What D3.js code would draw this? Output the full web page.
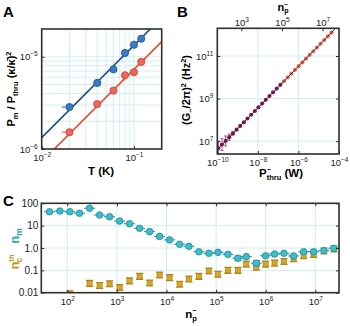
<!DOCTYPE html>
<html><head><meta charset="utf-8">
<script src="https://cdn.jsdelivr.net/npm/d3@7"></script>
<style>
body{margin:0;background:#fff;}
svg{display:block;font-family:"Liberation Sans",Arial,sans-serif;}
</style>
</head><body>
<svg id="c" width="350" height="326"></svg>
<script>
// ---------- Panel A data ----------
const tempK = [0.02, 0.04, 0.06, 0.08, 0.10, 0.12];
const ratioBlue = [2.85e-6, 5.2e-6, 7.3e-6, 1.10e-5, 1.35e-5, 1.57e-5];
const ratioRed = [1.52e-6, 3.07e-6, 4.3e-6, 6.3e-6, 6.8e-6, 8.8e-6];
const tempErrLow = [0.0035, 0, 0, 0, 0, 0];
const fitBlue = [[0.01, 1.33e-6], [0.2, 2.66e-5]];
const fitRed = [[0.01, 7.3e-7], [0.2, 1.46e-5]];
const aGridX = [0.02,0.03,0.04,0.05,0.06,0.07,0.08,0.09,0.1];
const aGridY = [2e-6,3e-6,4e-6,5e-6,6e-6,7e-6,8e-6,9e-6,1e-5];
const aTicksX = [0.01, 0.1];
const aTicksY = [1e-6, 1e-5];

// ---------- Panel B data ----------
const pThru = [1.12e-10,1.70e-10,2.57e-10,3.89e-10,5.89e-10,8.91e-10,1.35e-9,2.04e-9,3.09e-9,4.68e-9,
  7.08e-9,1.07e-8,1.62e-8,2.45e-8,3.72e-8,5.62e-8,8.51e-8,1.29e-7,
  1.95e-7,2.95e-7,4.47e-7,6.76e-7,1.02e-6,1.55e-6,2.34e-6,3.55e-6,5.37e-6,8.13e-6,1.23e-5,1.86e-5,2.82e-5,4.27e-5];
const gSquared = [4.6e6,6.9e6,1.03e7,1.54e7,2.31e7,3.46e7,5.18e7,7.76e7,1.16e8,1.74e8,
  2.61e8,3.91e8,5.85e8,8.77e8,1.31e9,1.97e9,2.94e9,4.41e9,
  6.61e9,9.9e9,1.48e10,2.22e10,3.33e10,4.99e10,7.46e10,1.12e11,1.67e11,2.51e11,3.76e11,5.64e11,8.44e11,1.26e12];
const gErrFactor = [2.2,1.9,1.7,1.4,1.2,0,0,0,0,0,0,0,0,0,0,0,0,0,0,0,0,0,0,0,0,0,0,0,0,0,0,0];
const purpleCount = 18;
const fitB = [[1e-10, 4.1e6], [6.8e-5, 2e12]];
const bTicksX = [1e-10, 1e-8, 1e-6, 1e-4];
const bTicksY = [1e7, 1e9, 1e11];
const bTicksTop = [1e3, 1e5, 1e7];
const nPerWatt = 6.5e11;

// ---------- Panel C data ----------
const nPhotons = [44,71,113,177,282,448,713,1135,1800,2870,4570,7260,11560,18400,28300,45000,71700,
  109000,173000,275000,406000,647000,996000,1.51e6,2.33e6,3.65e6,5.81e6,9.24e6,1.49e7,2.37e7];
const nMech = [42,45,42,36,60,30,25,16,12.2,7.6,5.4,3.3,2.3,1.47,1.19,0.68,0.58,0.64,0.52,0.35,0.41,0.21,
  0.45,0.54,0.58,0.44,0.68,0.68,0.76,0.97];
const nMechErr = [0,0,0,0,0,0,0,0,0,0,0,0,0,0,0,0,0,0,0,1.25,0,1.3,0,0,0,0,0,0,0,0];
const nCav = [null,null,0.009,null,0.026,0.021,0.025,0.017,0.034,0.054,0.027,0.062,0.047,0.024,0.041,0.054,
  0.094,0.067,0.10,0.10,0.19,0.137,0.19,0.21,0.25,0.33,0.45,0.52,0.73,0.90];
const cTicksX = [1e2,1e3,1e4,1e5,1e6,1e7];
const cTicksY = [0.01,0.1,1,10,100];
const cTickYLabels = ["0.01","0.1","1.0","10","100"];

// ---------- helpers ----------
const svg = d3.select('#c');
const frameColor = '#2e2e2e';
const gridColor = '#cdeeed';
const tickFont = '9.5px';

function expText(d) {
  const e = Math.round(Math.log10(d));
  return e < 0 ? '\u2212' + (-e) : String(e);
}
function powLabel(textSel) {
  textSel.each(function(d) {
    const t = d3.select(this);
    t.text(null);
    t.append('tspan').text('10');
    t.append('tspan').attr('dy', -4).attr('font-size', '6.5px').text(expText(d));
  });
}
function styleAxis(g) {
  g.select('.domain').remove();
  g.selectAll('.tick line').attr('stroke', frameColor).attr('stroke-width', 1);
  g.selectAll('.tick text').attr('fill', '#222').style('font-size', tickFont).attr('font-family', '"Liberation Sans",Arial,sans-serif');
}
function frame(x0, y0, x1, y1) {
  svg.append('rect').attr('x', x0).attr('y', y0).attr('width', x1 - x0).attr('height', y1 - y0)
    .attr('fill', 'none').attr('stroke', frameColor).attr('stroke-width', 1.6);
}
function clip(id, x0, y0, x1, y1) {
  svg.append('clipPath').attr('id', id).append('rect')
    .attr('x', x0).attr('y', y0).attr('width', x1 - x0).attr('height', y1 - y0);
}
function richText(sel, parts) {
  parts.forEach(p => {
    const ts = sel.append('tspan').text(p.t);
    if (p.dy) ts.attr('dy', p.dy);
    if (p.dx) ts.attr('dx', p.dx);
    if (p.fs) ts.attr('font-size', p.fs);
    if (p.fill) ts.attr('fill', p.fill);
  });
  return sel;
}

// ============ Panel A ============
const ax = d3.scaleLog().domain([0.01, 0.2]).range([41.7, 161.7]);
const ay = d3.scaleLog().domain([1e-6, 2e-5]).range([149, 29]);
clip('clipA', 41.7, 29, 161.7, 149);
const gA = svg.append('g');
gA.selectAll('.gx').data(aGridX).enter().append('line')
  .attr('x1', d => ax(d)).attr('x2', d => ax(d)).attr('y1', 29).attr('y2', 149)
  .attr('stroke', gridColor).attr('stroke-width', 0.9);
gA.selectAll('.gy').data(aGridY).enter().append('line')
  .attr('y1', d => ay(d)).attr('y2', d => ay(d)).attr('x1', 41.7).attr('x2', 161.7)
  .attr('stroke', gridColor).attr('stroke-width', 0.9);

const lineA = d3.line().x(d => ax(d[0])).y(d => ay(d[1]));
const gAc = svg.append('g').attr('clip-path', 'url(#clipA)');
gAc.append('path').attr('d', lineA(fitBlue)).attr('stroke', '#1f4f8a').attr('stroke-width', 1.6).attr('fill', 'none');
gAc.append('path').attr('d', lineA(fitRed)).attr('stroke', '#ee4a2e').attr('stroke-width', 1.6).attr('fill', 'none');

[[ratioBlue, '#3a7cc4', '#1f4f8a', '#8fb7e0'], [ratioRed, '#ee6660', '#c8403a', '#f0a4a0']].forEach(([vals, fill, stroke, err]) => {
  gAc.selectAll(null).data(tempK).enter().filter((d, i) => tempErrLow[i] > 0).append('line')
    .attr('x1', d => ax(d - tempErrLow[tempK.indexOf(d)])).attr('x2', d => ax(d))
    .attr('y1', (d) => ay(vals[tempK.indexOf(d)])).attr('y2', (d) => ay(vals[tempK.indexOf(d)]))
    .attr('stroke', err).attr('stroke-width', 2.2);
  gAc.selectAll(null).data(tempK).enter().append('circle')
    .attr('cx', d => ax(d)).attr('cy', (d, i) => ay(vals[i])).attr('r', 3.6)
    .attr('fill', fill).attr('stroke', stroke).attr('stroke-width', 0.8);
});

svg.append('g').attr('transform', 'translate(0,149)')
  .call(d3.axisBottom(ax).tickValues(aTicksX).tickSizeInner(-3).tickSizeOuter(0).tickPadding(5))
  .call(styleAxis).call(g => powLabel(g.selectAll('.tick text')));
svg.append('g').attr('transform', 'translate(41.7,0)')
  .call(d3.axisLeft(ay).tickValues(aTicksY).tickSizeInner(-3).tickSizeOuter(0).tickPadding(4))
  .call(styleAxis).call(g => powLabel(g.selectAll('.tick text')));
frame(41.7, 29, 161.7, 149);

svg.append('text').attr('x', 101).attr('y', 175).attr('text-anchor', 'middle')
  .attr('font-weight', 'bold').attr('font-size', '11.5px').text('T (K)');
richText(svg.append('text').attr('transform', 'translate(15,89) rotate(-90)').attr('text-anchor', 'middle')
  .attr('font-weight', 'bold').attr('font-size', '11px'), [
  {t: 'P'}, {t: 'm', dy: 3, fs: '7.5px'}, {t: ' / P', dy: -3}, {t: 'thru', dy: 3, fs: '7.5px'},
  {t: ' (\u03BA/\u03BA\u0304)', dy: -3}, {t: '2', dy: -4, fs: '7.5px'}]);
svg.append('text').attr('x', 3).attr('y', 17).attr('font-weight', 'bold').attr('font-size', '15px').text('A');

// ============ Panel B ============
const bx = d3.scaleLog().domain([1e-10, 1e-4]).range([217.3, 339]);
const bn = d3.scaleLog().domain([1e-10 * nPerWatt, 1e-4 * nPerWatt]).range([217.3, 339]);
const by = d3.scaleLog().domain([2.5e6, 2e12]).range([154, 28.3]);
clip('clipB', 217.3, 28.3, 339, 154);
const gB = svg.append('g');
gB.selectAll(null).data([1e-8, 1e-6]).enter().append('line')
  .attr('x1', d => bx(d)).attr('x2', d => bx(d)).attr('y1', 28.3).attr('y2', 154)
  .attr('stroke', gridColor).attr('stroke-width', 1);
gB.selectAll(null).data(bTicksY).enter().append('line')
  .attr('y1', d => by(d)).attr('y2', d => by(d)).attr('x1', 217.3).attr('x2', 339)
  .attr('stroke', gridColor).attr('stroke-width', 1);
const gBc = svg.append('g').attr('clip-path', 'url(#clipB)');
gBc.selectAll(null).data(pThru).enter().filter((d, i) => gErrFactor[i] > 0).append('g').each(function(d) {
  const i = pThru.indexOf(d);
  const g = d3.select(this);
  const x = bx(d), y0 = by(gSquared[i] / gErrFactor[i]), y1 = by(gSquared[i] * gErrFactor[i]);
  g.append('line').attr('x1', x).attr('x2', x).attr('y1', y0).attr('y2', y1).attr('stroke', '#a0467c').attr('stroke-width', 0.9);
  g.append('line').attr('x1', x - 1.6).attr('x2', x + 1.6).attr('y1', y0).attr('y2', y0).attr('stroke', '#a0467c').attr('stroke-width', 0.9);
  g.append('line').attr('x1', x - 1.6).attr('x2', x + 1.6).attr('y1', y1).attr('y2', y1).attr('stroke', '#a0467c').attr('stroke-width', 0.9);
});
gBc.selectAll(null).data(pThru).enter().append('circle')
  .attr('cx', d => bx(d)).attr('cy', (d, i) => by(gSquared[i])).attr('r', 2.1)
  .attr('fill', (d, i) => i < purpleCount ? '#8e1f5f' : '#f36a5c');
const lineB = d3.line().x(d => bx(d[0])).y(d => by(d[1]));
gBc.append('path').attr('d', lineB(fitB)).attr('stroke', '#111').attr('stroke-width', 0.8).attr('fill', 'none');

svg.append('g').attr('transform', 'translate(0,154)')
  .call(d3.axisBottom(bx).tickValues(bTicksX).tickSizeInner(-3).tickSizeOuter(0).tickPadding(5))
  .call(styleAxis).call(g => powLabel(g.selectAll('.tick text')));
svg.append('g').attr('transform', 'translate(0,28.3)')
  .call(d3.axisTop(bn).tickValues(bTicksTop).tickSizeInner(-3).tickSizeOuter(0).tickPadding(2))
  .call(styleAxis).call(g => powLabel(g.selectAll('.tick text')));
svg.append('g').attr('transform', 'translate(217.3,0)')
  .call(d3.axisLeft(by).tickValues(bTicksY).tickSizeInner(-3).tickSizeOuter(0).tickPadding(4))
  .call(styleAxis).call(g => powLabel(g.selectAll('.tick text')));
svg.append('g').attr('transform', 'translate(339,0)')
  .call(d3.axisRight(by).tickValues(bTicksY).tickSizeInner(-3).tickSizeOuter(0).tickFormat(''))
  .call(styleAxis);
frame(217.3, 28.3, 339, 154);

richText(svg.append('text').attr('x', 281).attr('y', 177).attr('text-anchor', 'middle')
  .attr('font-weight', 'bold').attr('font-size', '11.5px'), [
  {t: 'P'}, {t: '\u2212', dy: -5, fs: '7px'}, {t: 'thru', dy: 8, dx: -4, fs: '7.5px'}, {t: ' (W)', dy: -3}]);
richText(svg.append('text').attr('x', 283).attr('y', 11).attr('text-anchor', 'middle')
  .attr('font-weight', 'bold').attr('font-size', '11px'), [
  {t: 'n'}, {t: '\u2212', dy: -4, fs: '6.5px'}, {t: 'p', dy: 6, dx: -4, fs: '7px'}]);
richText(svg.append('text').attr('transform', 'translate(190,90) rotate(-90)').attr('text-anchor', 'middle')
  .attr('font-weight', 'bold').attr('font-size', '11px'), [
  {t: '(G'}, {t: '\u2212', dy: 3, fs: '7.5px'}, {t: '/2\u03C0)', dy: -3}, {t: '2', dy: -4, fs: '7.5px'},
  {t: ' (Hz', dy: 4}, {t: '2', dy: -4, fs: '7.5px'}, {t: ')', dy: 4}]);
svg.append('text').attr('x', 177).attr('y', 17).attr('font-weight', 'bold').attr('font-size', '15px').text('B');

// ============ Panel C ============
const cx = d3.scaleLog().domain([30, 3e7]).range([41.3, 339]);
const cy = d3.scaleLog().domain([0.01, 100]).range([292.7, 203.3]);
clip('clipC', 41.3, 203.3, 339, 292.7);
const gC = svg.append('g');
gC.selectAll(null).data(cTicksX).enter().append('line')
  .attr('x1', d => cx(d)).attr('x2', d => cx(d)).attr('y1', 203.3).attr('y2', 292.7)
  .attr('stroke', gridColor).attr('stroke-width', 1);
gC.selectAll(null).data([0.1, 1, 10]).enter().append('line')
  .attr('y1', d => cy(d)).attr('y2', d => cy(d)).attr('x1', 41.3).attr('x2', 339)
  .attr('stroke', gridColor).attr('stroke-width', 1);
const gCc = svg.append('g').attr('clip-path', 'url(#clipC)');
// gold (n_c^th) with vertical error bars
const goldIdx = nCav.map((v, i) => v == null ? -1 : i).filter(i => i >= 0);
gCc.selectAll(null).data(goldIdx).enter().append('g').each(function(i) {
  const g = d3.select(this);
  const x = cx(nPhotons[i]), v = nCav[i];
  const y0 = cy(v / 1.35), y1 = cy(v * 1.35);
  g.append('line').attr('x1', x).attr('x2', x).attr('y1', y0).attr('y2', y1).attr('stroke', '#b08a2a').attr('stroke-width', 1);
  [y0, y1].forEach(yy => g.append('line').attr('x1', x - 3.6).attr('x2', x + 3.6).attr('y1', yy).attr('y2', yy)
    .attr('stroke', '#b08a2a').attr('stroke-width', 1.3));
  g.append('rect').attr('x', x - 2.6).attr('y', cy(v) - 2.6).attr('width', 5.2).attr('height', 5.2)
    .attr('fill', '#d8a524').attr('stroke', '#a77a12').attr('stroke-width', 0.6);
});
// teal (n_m)
gCc.selectAll(null).data(nPhotons).enter().append('g').each(function(n, i) {
  const g = d3.select(this);
  const x = cx(n), y = cy(nMech[i]);
  if (nMechErr[i] > 0) {
    const y0 = cy(nMech[i] / nMechErr[i]), y1 = cy(nMech[i] * nMechErr[i]);
    g.append('line').attr('x1', x).attr('x2', x).attr('y1', y0).attr('y2', y1).attr('stroke', '#1a8c99').attr('stroke-width', 1);
    [y0, y1].forEach(yy => g.append('line').attr('x1', x - 3.4).attr('x2', x + 3.4).attr('y1', yy).attr('y2', yy)
      .attr('stroke', '#1a8c99').attr('stroke-width', 1.2));
  }
  g.append('line').attr('x1', x - 5.5).attr('x2', x + 5.5).attr('y1', y).attr('y2', y).attr('stroke', '#1a8c99').attr('stroke-width', 1);
  g.append('circle').attr('cx', x).attr('cy', y).attr('r', 3.3)
    .attr('fill', '#3dbdc9').attr('stroke', '#1a8c99').attr('stroke-width', 0.8);
});

svg.append('g').attr('transform', 'translate(0,292.7)')
  .call(d3.axisBottom(cx).tickValues(cTicksX).tickSizeInner(-3).tickSizeOuter(0).tickPadding(6))
  .call(styleAxis).call(g => powLabel(g.selectAll('.tick text')));
svg.append('g').attr('transform', 'translate(0,203.3)')
  .call(d3.axisTop(cx).tickValues(cTicksX).tickSizeInner(-3).tickSizeOuter(0).tickFormat(''))
  .call(styleAxis);
svg.append('g').attr('transform', 'translate(41.3,0)')
  .call(d3.axisLeft(cy).tickValues(cTicksY).tickSizeInner(-3).tickSizeOuter(0).tickPadding(3)
    .tickFormat((d, i) => cTickYLabels[i]))
  .call(styleAxis).call(g => g.selectAll('.tick text').style('font-size', '10px'));
svg.append('g').attr('transform', 'translate(339,0)')
  .call(d3.axisRight(cy).tickValues(cTicksY).tickSizeInner(-3).tickSizeOuter(0).tickFormat(''))
  .call(styleAxis);
frame(41.3, 203.3, 339, 292.7);

richText(svg.append('text').attr('x', 191).attr('y', 318).attr('text-anchor', 'middle')
  .attr('font-weight', 'bold').attr('font-size', '11.5px'), [
  {t: 'n'}, {t: '\u2212', dy: -5, fs: '7px'}, {t: 'p', dy: 8, dx: -4, fs: '7.5px'}]);
richText(svg.append('text').attr('transform', 'translate(19,236) rotate(-90)').attr('text-anchor', 'middle')
  .attr('font-weight', 'bold').attr('font-size', '13px').attr('fill', '#2aaab8'), [
  {t: 'n'}, {t: 'm', dy: 3, fs: '8.5px'}]);
richText(svg.append('text').attr('transform', 'translate(19,262) rotate(-90)').attr('text-anchor', 'middle')
  .attr('font-weight', 'bold').attr('font-size', '13px').attr('fill', '#c9961c'), [
  {t: 'n'}, {t: 'th', dy: -5, fs: '7.5px'}, {t: 'c', dy: 8, dx: -8, fs: '8.5px'}]);
svg.append('text').attr('x', 3).attr('y', 206).attr('font-weight', 'bold').attr('font-size', '15px').text('C');
</script>
</body></html>
